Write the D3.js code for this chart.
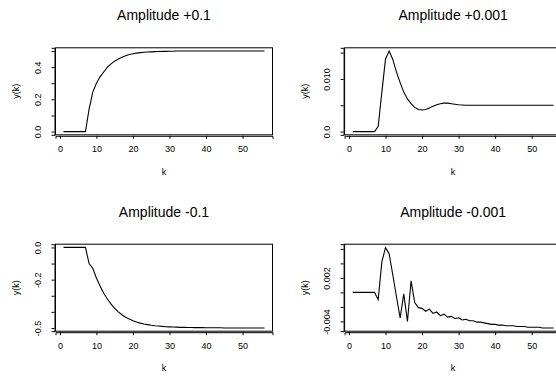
<!DOCTYPE html>
<html>
<head>
<meta charset="utf-8">
<script src="https://cdn.jsdelivr.net/npm/d3@7"></script>
<style>
  body { margin: 0; background: white; }
  svg { display: block; font-family: "Liberation Sans", Arial, sans-serif; }
  .tick text { font-family: "Liberation Sans", Arial, sans-serif; }
</style>
</head>
<body>
<div id="chart"></div>
<script>
// sample index k = 1..56
var kValues = d3.range(1, 57);

var yPlus01 = [0, 0, 0, 0, 0, 0, 0,
  0.14, 0.245, 0.30, 0.34, 0.37, 0.40, 0.42, 0.437, 0.45, 0.462, 0.471, 0.478, 0.483,
  0.487, 0.49, 0.492, 0.494, 0.495, 0.496, 0.497, 0.498, 0.498, 0.499, 0.499,
  0.5, 0.5, 0.5, 0.5, 0.5, 0.5, 0.5, 0.5, 0.5, 0.5, 0.5, 0.5, 0.5, 0.5, 0.5, 0.5,
  0.5, 0.5, 0.5, 0.5, 0.5, 0.5, 0.5, 0.5, 0.5];

var yPlus0001 = [0, 0, 0, 0, 0, 0, 0,
  0.001, 0.0075, 0.0138, 0.0153, 0.0137, 0.0113, 0.0093, 0.0075, 0.0062, 0.0053, 0.0046,
  0.0042, 0.0041, 0.0042, 0.0045, 0.0048, 0.0051, 0.0053, 0.0054, 0.0054, 0.0053, 0.0052,
  0.0051, 0.00505,
  0.005, 0.005, 0.005, 0.005, 0.005, 0.005, 0.005, 0.005, 0.005, 0.005, 0.005, 0.005,
  0.005, 0.005, 0.005, 0.005, 0.005, 0.005, 0.005, 0.005, 0.005, 0.005, 0.005, 0.005, 0.005];

var yMinus01 = [0, 0, 0, 0, 0, 0, 0,
  -0.10, -0.13, -0.19, -0.24, -0.285, -0.32, -0.352, -0.378, -0.40, -0.418, -0.433,
  -0.445, -0.455, -0.463, -0.47, -0.475, -0.479, -0.483, -0.486, -0.488, -0.49, -0.492,
  -0.493, -0.494, -0.495, -0.496, -0.496, -0.497, -0.497, -0.498, -0.498, -0.498, -0.499,
  -0.499, -0.499, -0.499, -0.499, -0.5, -0.5, -0.5, -0.5, -0.5, -0.5, -0.5, -0.5,
  -0.5, -0.5, -0.5, -0.5];

var yMinus0001 = [0, 0, 0, 0, 0, 0, 0,
  -0.001, 0.0042, 0.0062, 0.0053, 0.0024, -0.0006, -0.0035, -0.0002, -0.0040, 0.0016,
  -0.0014, -0.0021, -0.0022, -0.0026, -0.0023, -0.0029, -0.0027, -0.0032, -0.0030,
  -0.0034, -0.0033, -0.0036, -0.0035, -0.0038, -0.0037, -0.0039, -0.0039, -0.0041,
  -0.0041, -0.0042, -0.0043, -0.0044, -0.0044, -0.0045, -0.0045, -0.0046, -0.0046,
  -0.0046, -0.0047, -0.0047, -0.0047, -0.0048, -0.0048, -0.0048, -0.0048, -0.0049,
  -0.0049, -0.0049, -0.0049];

var xTicks = [0, 10, 20, 30, 40, 50];

var panels = [
  {title: "Amplitude +0.1",   values: yPlus01,
   ticks: [0, 0.1, 0.2, 0.3, 0.4, 0.5], labels: {"0": "0.0", "0.2": "0.2", "0.4": "0.4"}},
  {title: "Amplitude +0.001", values: yPlus0001,
   ticks: [0, 0.005, 0.01, 0.015], labels: {"0": "0.0", "0.01": "0.010"}},
  {title: "Amplitude -0.1",   values: yMinus01,
   ticks: [0, -0.1, -0.2, -0.3, -0.4, -0.5], labels: {"0": "0.0", "-0.2": "-0.2", "-0.5": "-0.5"}},
  {title: "Amplitude -0.001", values: yMinus0001,
   ticks: [0.006, 0.004, 0.002, 0, -0.002, -0.004], labels: {"0.002": "0.002", "-0.004": "-0.004"}}
];

var width = 556, height = 376;
var plotW = 217, plotH = 87;
var lefts = [55.5, 344.6];
var tops = [47.8, 244.2];

var svg = d3.select("#chart").append("svg")
    .attr("width", width).attr("height", height);

// R style: extend data range by 4%
function padExtent(ext) {
  var d = (ext[1] - ext[0]) * 0.04;
  return [ext[0] - d, ext[1] + d];
}

function drawPanel(p, i) {
  var L = lefts[i % 2], T = tops[Math.floor(i / 2)];
  var g = svg.append("g").attr("transform", "translate(" + L + "," + T + ")");

  var x = d3.scaleLinear().domain(padExtent(d3.extent(kValues))).range([0, plotW]);
  var y = d3.scaleLinear().domain(padExtent(d3.extent(p.values))).range([plotH, 0]);

  // box
  g.append("rect")
    .attr("x", 0).attr("y", 0)
    .attr("width", plotW).attr("height", plotH)
    .attr("fill", "none").attr("stroke", "black").attr("stroke-width", 1);

  // x axis
  var xa = g.append("g").attr("transform", "translate(0," + (plotH + 1) + ")")
    .call(d3.axisBottom(x).tickValues(xTicks).tickSizeOuter(0).tickSize(3).tickPadding(7));
  xa.select(".domain").attr("stroke-width", 1);
  xa.selectAll("text").attr("font-size", "9px").attr("fill", "black");

  // y axis, labels parallel to axis, some left out like R does
  var ya = g.append("g").attr("transform", "translate(-1,0)")
    .call(d3.axisLeft(y).tickValues(p.ticks).tickSizeOuter(0).tickSize(3)
      .tickFormat(function(d) { var s = p.labels[String(+d.toFixed(4))]; return s ? s : ""; }));
  ya.select(".domain").attr("stroke-width", 1);
  ya.selectAll("text")
    .attr("font-size", "9px").attr("fill", "black")
    .attr("x", null).attr("dy", null)
    .attr("text-anchor", "middle")
    .attr("transform", "translate(-17,0) rotate(-90)")
    .attr("y", 0).attr("dy", "0.35em");

  // curve
  var line = d3.line()
    .x(function(d, j) { return x(kValues[j]); })
    .y(function(d) { return y(d); });
  g.append("path")
    .datum(p.values)
    .attr("d", line)
    .attr("fill", "none")
    .attr("stroke", "black")
    .attr("stroke-width", 1.1);

  // title
  g.append("text")
    .attr("x", plotW / 2).attr("y", -27.5)
    .attr("text-anchor", "middle")
    .attr("font-size", "14px")
    .text(p.title);

  // axis titles
  g.append("text")
    .attr("x", plotW / 2).attr("y", plotH + 40)
    .attr("text-anchor", "middle")
    .attr("font-size", "9px")
    .text("k");
  g.append("text")
    .attr("transform", "translate(-37," + (plotH / 2) + ") rotate(-90)")
    .attr("text-anchor", "middle")
    .attr("font-size", "9px")
    .text("y(k)");
}

panels.forEach(drawPanel);
</script>
</body>
</html>
